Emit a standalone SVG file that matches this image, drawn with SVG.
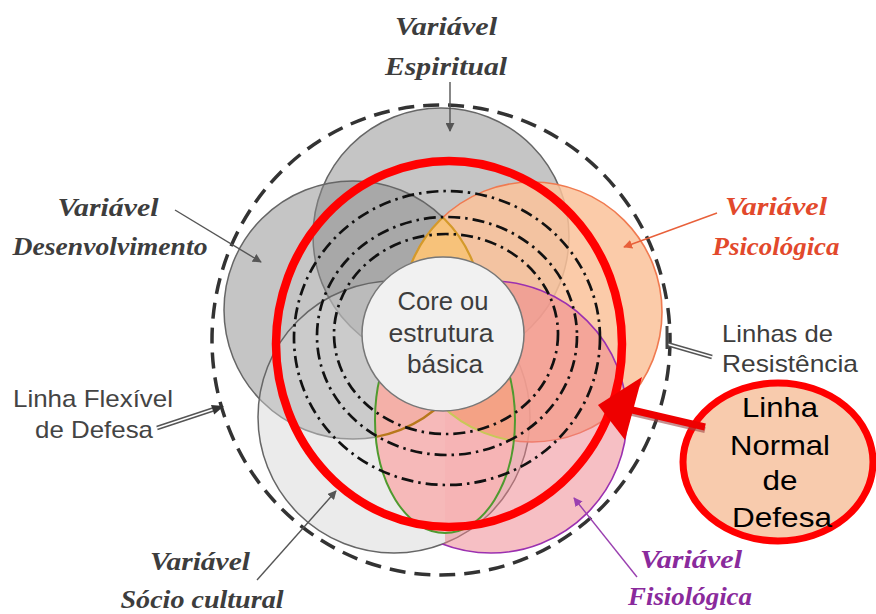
<svg xmlns="http://www.w3.org/2000/svg" width="876" height="614" viewBox="0 0 876 614">
<style>
.cal{font-family:"Liberation Serif","DejaVu Serif",serif;font-style:italic;font-weight:bold;font-size:25px;text-anchor:middle}
.sans{font-family:"Liberation Sans",Arial,sans-serif}
.g-txt{fill:#3d3d3d}
.petal-gray{fill:#8c8c8c;fill-opacity:.5;stroke:#666;stroke-width:1.5}
.res{fill:none;stroke:#111;stroke-width:2.7;stroke-dasharray:12 5 2.5 5}
.thin{fill:none;stroke-width:1.4}
</style>
<defs>
<marker id="ah-gray" viewBox="0 0 10 10" refX="9" refY="5" markerWidth="9" markerHeight="9" markerUnits="userSpaceOnUse" orient="auto"><path d="M0,0 L10,5 L0,10 z" fill="#555"/></marker>
<marker id="ah-orange" viewBox="0 0 10 10" refX="9" refY="5" markerWidth="9" markerHeight="9" markerUnits="userSpaceOnUse" orient="auto"><path d="M0,0 L10,5 L0,10 z" fill="#e8603a"/></marker>
<marker id="ah-purple" viewBox="0 0 10 10" refX="9" refY="5" markerWidth="9" markerHeight="9" markerUnits="userSpaceOnUse" orient="auto"><path d="M0,0 L10,5 L0,10 z" fill="#9a40b0"/></marker>
<clipPath id="clip-green"><ellipse cx="445" cy="420" rx="70" ry="113"/></clipPath>
<clipPath id="clip-de"><circle cx="353" cy="310" r="129"/></clipPath>
<clipPath id="clip-ps"><circle cx="532" cy="312" r="130"/></clipPath>
<clipPath id="clip-left"><rect x="0" y="0" width="445" height="614"/></clipPath>
<mask id="mask-fi" maskUnits="userSpaceOnUse" x="0" y="0" width="876" height="614">
<rect width="876" height="614" fill="#fff"/>
<circle cx="394" cy="417" r="136" fill="#000" clip-path="url(#clip-left)"/>
</mask>
</defs>
<rect width="876" height="614" fill="#fff"/>

<g id="variavel-espiritual-circle"><circle class="petal-gray" cx="441" cy="236" r="128"/></g>
<g id="variavel-desenvolvimento-circle"><circle class="petal-gray" cx="353" cy="310" r="129"/></g>
<g id="variavel-sociocultural-circle"><circle cx="394" cy="417" r="136" fill="#d2d2d2" fill-opacity=".45" stroke="#666" stroke-width="1.5"/></g>
<g id="variavel-psicologica-circle"><circle cx="532" cy="312" r="130" fill="#fac29a" fill-opacity=".85" stroke="#f07a50" stroke-width="1.6"/></g>
<g id="variavel-fisiologica-circle"><circle cx="491" cy="417" r="136" fill="#ee7f8a" fill-opacity=".5" stroke="#9b30b0" stroke-width="1.6" mask="url(#mask-fi)"/></g>

<g id="overlaps">
<ellipse cx="445" cy="420" rx="70" ry="113" fill="#f6b4b4" fill-opacity=".92"/>
<circle cx="532" cy="312" r="130" fill="#f4a285" stroke="#c8c858" stroke-width="2" clip-path="url(#clip-green)"/>
<circle cx="353" cy="310" r="129" fill="#f4b0a8" stroke="#b8781c" stroke-width="2.4" clip-path="url(#clip-green)"/>
<ellipse cx="445" cy="420" rx="70" ry="113" fill="none" stroke="#4f9a2f" stroke-width="2"/>
<circle cx="532" cy="312" r="130" fill="#f7c27a" stroke="#d49a2a" stroke-width="2.2" clip-path="url(#clip-de)"/>
<circle cx="353" cy="310" r="129" fill="none" stroke="#d49a2a" stroke-width="2.2" clip-path="url(#clip-ps)"/>
</g>

<g id="linhas-de-resistencia">
<ellipse class="res" cx="447" cy="338" rx="153" ry="147"/>
<ellipse class="res" cx="447" cy="336" rx="130" ry="119"/>
<ellipse class="res" cx="446" cy="334" rx="112" ry="100"/>
</g>

<g id="core">
<ellipse cx="443" cy="334" rx="81" ry="77" fill="#f1f1f1" stroke="#777" stroke-width="1.5"/>
<text class="sans g-txt" font-size="26" text-anchor="middle" x="443" y="310" textLength="91" lengthAdjust="spacingAndGlyphs">Core ou</text>
<text class="sans g-txt" font-size="26" text-anchor="middle" x="441" y="342" textLength="105" lengthAdjust="spacingAndGlyphs">estrutura</text>
<text class="sans g-txt" font-size="26" text-anchor="middle" x="445" y="373" textLength="76" lengthAdjust="spacingAndGlyphs">básica</text>
</g>

<g id="linha-flexivel-de-defesa">
<ellipse cx="441" cy="340" rx="229" ry="235" fill="none" stroke="#333" stroke-width="3.5" stroke-dasharray="16 9"/>
<text class="sans" fill="#444" font-size="24" x="13" y="407" textLength="160" lengthAdjust="spacingAndGlyphs">Linha Flexível</text>
<text class="sans" fill="#444" font-size="24" x="35" y="438" textLength="118" lengthAdjust="spacingAndGlyphs">de Defesa</text>
</g>

<g id="linha-normal-de-defesa">
<ellipse cx="449" cy="344" rx="173" ry="183" fill="none" stroke="#ff0000" stroke-width="8.5"/>
</g>

<g id="label-espiritual" class="g-txt">
<text class="cal" x="446" y="35" textLength="102" lengthAdjust="spacingAndGlyphs">Variável</text>
<text class="cal" x="446" y="75" textLength="122" lengthAdjust="spacingAndGlyphs">Espiritual</text>
</g>
<g id="label-desenvolvimento" class="g-txt">
<text class="cal" x="108" y="216" textLength="101" lengthAdjust="spacingAndGlyphs">Variável</text>
<text class="cal" x="110" y="255" textLength="195" lengthAdjust="spacingAndGlyphs">Desenvolvimento</text>
</g>
<g id="label-psicologica" fill="#e2492c">
<text class="cal" x="776" y="215" textLength="102" lengthAdjust="spacingAndGlyphs">Variável</text>
<text class="cal" x="776" y="255" textLength="127" lengthAdjust="spacingAndGlyphs">Psicológica</text>
</g>
<g id="label-fisiologica" fill="#8a2a9c">
<text class="cal" x="691" y="568" textLength="102" lengthAdjust="spacingAndGlyphs">Variável</text>
<text class="cal" x="690" y="605" textLength="124" lengthAdjust="spacingAndGlyphs">Fisiológica</text>
</g>
<g id="label-sociocultural" class="g-txt">
<text class="cal" x="200" y="570" textLength="100" lengthAdjust="spacingAndGlyphs">Variável</text>
<text class="cal" x="202" y="608" textLength="163" lengthAdjust="spacingAndGlyphs">Sócio cultural</text>
</g>
<g id="label-resistencia">
<text class="sans g-txt" font-size="24" x="722" y="342" textLength="111" lengthAdjust="spacingAndGlyphs">Linhas de</text>
<text class="sans g-txt" font-size="24" x="722" y="372" textLength="136" lengthAdjust="spacingAndGlyphs">Resistência</text>
</g>

<g id="callout-linha-normal">
<ellipse cx="778" cy="462" rx="95" ry="79" fill="#f8cbad" stroke="#ff0000" stroke-width="7"/>
<text class="sans" fill="#000" font-size="28" text-anchor="middle" x="780" y="417" textLength="76" lengthAdjust="spacingAndGlyphs">Linha</text>
<text class="sans" fill="#000" font-size="28" text-anchor="middle" x="780" y="455" textLength="100" lengthAdjust="spacingAndGlyphs">Normal</text>
<text class="sans" fill="#000" font-size="28" text-anchor="middle" x="780" y="490" textLength="35" lengthAdjust="spacingAndGlyphs">de</text>
<text class="sans" fill="#000" font-size="28" text-anchor="middle" x="782" y="527" textLength="100" lengthAdjust="spacingAndGlyphs">Defesa</text>
</g>

<g id="connectors">
<line class="thin" stroke="#555" x1="450" y1="82" x2="450" y2="131" marker-end="url(#ah-gray)"/>
<line class="thin" stroke="#555" x1="175" y1="210" x2="261" y2="262" marker-end="url(#ah-gray)"/>
<line class="thin" stroke="#e8603a" x1="717" y1="213" x2="624" y2="247" marker-end="url(#ah-orange)"/>
<line class="thin" stroke="#9a40b0" x1="637" y1="577" x2="574" y2="498" marker-end="url(#ah-purple)"/>
<line class="thin" stroke="#555" x1="257" y1="580" x2="336" y2="491" marker-end="url(#ah-gray)"/>
<line x1="157" y1="428" x2="213" y2="409.5" stroke="#555" stroke-width="4.5"/>
<line x1="157" y1="428" x2="213" y2="409.5" stroke="#fff" stroke-width="1.4"/>
<polygon points="224,406 214.2,414.5 211,405.1" fill="#333"/>
<line x1="712" y1="357" x2="667" y2="344" stroke="#555" stroke-width="4.5"/>
<line x1="712" y1="357" x2="667" y2="344" stroke="#fff" stroke-width="1.4"/>
<line x1="667" y1="326" x2="667" y2="349" stroke="#444" stroke-width="3"/>
<line x1="705" y1="430" x2="628" y2="412" stroke="#a04848" stroke-opacity=".6" stroke-width="6"/>
<line x1="705" y1="427" x2="628" y2="409" stroke="#ee0000" stroke-width="7"/>
<polygon points="642,377 625,440 598,405" fill="#ee0000"/>
</g>
</svg>
